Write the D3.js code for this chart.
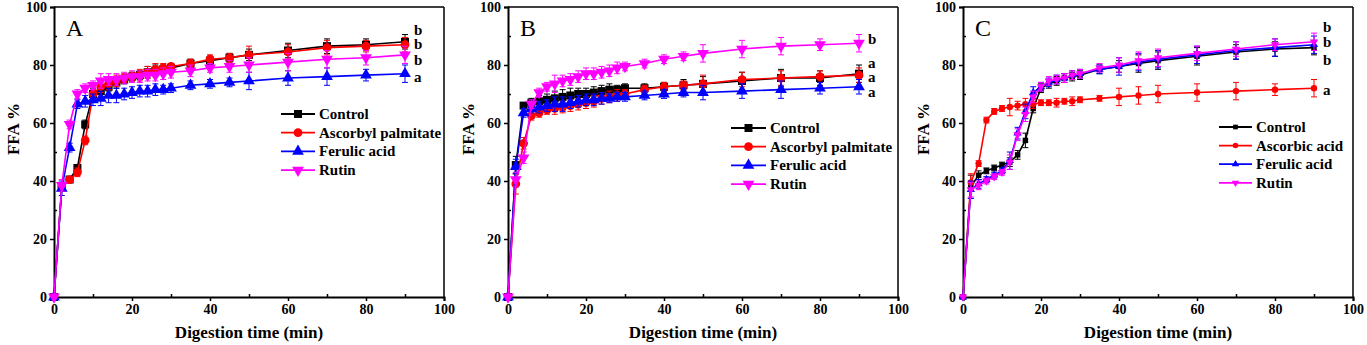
<!DOCTYPE html>
<html>
<head>
<meta charset="utf-8">
<script src="https://cdn.jsdelivr.net/npm/d3@7"></script>
<style>
  html, body { margin: 0; padding: 0; background: #fff; }
  svg { display: block; }
  text { font-family: "Liberation Serif", "Times New Roman", serif; }
</style>
</head>
<body>
<svg id="chart" width="1367" height="345"></svg>
<script>
// ---------------- DATA ----------------
const timeMin = [0,2,4,6,8,10,12,14,16,18,20,22,24,26,28,30,35,40,45,50,60,70,80,90];
const xTicks = [0,20,40,60,80,100];
const yTicks = [0,20,40,60,80,100];
const panelLabels = ["A","B","C"];
const xTitle = "Digestion time (min)";
const yTitle = "FFA %";

// Panel A
const namesA = ["Control","Ascorbyl palmitate","Ferulic acid","Rutin"];
const aControl = [0,38,40.5,44.5,59.5,70,71,72.5,74,75,76,76.5,77.5,78,78.5,79,80.5,81.5,82.5,83.5,85,86.5,87,88];
const aAscPal  = [0,38,40.5,43,54,70,72.5,73.5,74.5,75.5,76,76.5,77.5,78.5,79,79.5,80.5,82,82.5,83.5,84.5,86,86.5,87];
const aFerulic = [0,37.5,51.5,66.5,67.5,68,68.5,69.5,69.5,70,70.5,71,71,71.5,71.5,72,73,73.5,74,74.5,75.5,76,76.5,77];
const aRutin   = [0,38.5,59.5,70,72,73,74.5,75,75,75.5,76,76,76.5,76.5,77,77.5,78,79,79.5,80,81,82,82.5,83.5];
const aControlErr = [0,1.5,1,1,1.5,2,2,1.5,2,1.5,1.5,1.5,2,2,1.5,1,1.5,1.5,1.5,2,2.5,2.5,2,2.5];
const aAscPalErr  = [0,1.5,1,1.5,1.5,1.5,2,2,2,1.5,1.5,2,2,2,1.5,1,1.5,1.5,1.5,3,2.5,2.5,2,2.5];
const aFerulicErr = [0,2.5,1.5,1.5,2,2,2.5,2.5,2.5,2,2,2,2,2,1.5,1.5,1.5,1.5,1.5,3,2.5,3,2,3];
const aRutinErr   = [0,2,1.5,1.5,1.5,1.5,2.5,2,2,2,2,2,2,2,2,2,2,1.5,2,2.5,3,3,2.5,3];
const lettersA = ["b","b","b","a"];
const letterValsA = [92,87.2,81.7,75.9];

// Panel B
const namesB = ["Control","Ascorbyl palmitate","Ferulic acid","Rutin"];
const bControl = [0,45.5,66,67,67.5,68,68.5,69,69.5,70,70,70.5,71,71.5,71.5,72,72,72.5,73,73.5,74.5,75.5,75.5,77];
const bAscPal  = [0,39,53,62.5,63.5,64.5,65,65.5,66,66.5,67,67.5,68.5,69,69.5,70,71.5,72.5,73,73.5,75,75.5,76,76.5];
const bFerulic = [0,45,63.5,65,65.5,66,66.5,66.5,67,67.5,68,68,68.5,68.5,69,69,69.5,70,70.5,70.5,71,71.5,72,72.5];
const bRutin   = [0,40.5,48,66.5,70.5,72.5,73.5,74.5,75,76,77,77,77.5,78,79,79.5,80.5,82,83,84,85.5,86.5,87,87.5];
const bControlErr = [0,3,1,1.5,2,2,2.5,2.5,2.5,2,2,2,2,2,1.5,1.5,1.5,1.5,2,2.5,3,3,2.5,3];
const bAscPalErr  = [0,3.5,2,1.5,1.5,1.5,2,2,2,2,2,2,2,2,2,1.5,1.5,1.5,1.5,3,2.5,2.5,2,2.5];
const bFerulicErr = [0,2.5,1.5,1.5,2,2,2.5,2.5,2,2,2,2,2,1.5,1.5,1.5,1.5,1.5,1.5,2.5,2.5,3,2,2.5];
const bRutinErr   = [0,2.5,2,1.5,1.5,1.5,3,2,2,2,2,2,2,2,2,1.5,1.5,1.5,1.5,3,3,3,2,3];
const lettersB = ["b","a","a","a"];
const letterValsB = [88.8,80.6,75.8,70.8];

// Panel C
const namesC = ["Control","Ascorbic acid","Ferulic acid","Rutin"];
const cControl = [0,38,42,43.5,44.5,45.5,46.5,49,54,65,72,73.5,74.5,75.5,76,76.5,78.5,79.5,80.5,81.5,83,84.5,85.5,86];
const cAscAcid = [0,39.5,46,61,64,65,65.5,66,66.5,66.5,67,67,67,67.5,67.5,68,68.5,69,69.5,70,70.5,71,71.5,72];
const cFerulic = [0,37,39,40.5,42,43.5,47,56.5,64,70.5,72.5,74,75,75.5,76.5,77,78.5,79.5,81,82,83.5,85,86,87];
const cRutin   = [0,37,38.5,40,41.5,43,46.5,56,63,69,72.5,74.5,75,75.5,76.5,77,79,80,81.5,82.5,84,85.5,87,88];
const cControlErr = [0,4,1.5,1,1,1,1.5,1.5,2.5,1.5,1.5,1.5,1.5,1.5,1.5,1.5,1.5,2,3,3,3,2.5,2.5,2.5];
const cAscAcidErr = [0,3,1,1,1,1,3,1.5,2,1.5,1,1,1.5,1,1.5,1,1,3,3,3,3,3,2,3];
const cFerulicErr = [0,3,1.5,1,1,1,3,2,2.5,2,1.5,1.5,1.5,1.5,1.5,1.5,1.5,3,3,3,3,3,3,3];
const cRutinErr   = [0,2.5,1.5,1,1,1,2.5,2,2.5,2,1.5,1.5,1.5,1.5,1.5,1.5,1.5,2.5,3,3,2.5,2.5,2,3];
const lettersC = ["b","b","b","a"];
const letterValsC = [93.2,88,81.7,71.4];

// ---------------- STYLE / LAYOUT ----------------
const colors = ["#000000","#ff0000","#0000ff","#ff00ff"];
const symTypes = [d3.symbolSquare, d3.symbolCircle, d3.symbolTriangle, d3.symbolTriangle];
const symRotate = [0,0,0,180];

const panels = [
  { origin: 0, left: 54,  label: panelLabels[0], names: namesA,
    values: [aControl,aAscPal,aFerulic,aRutin], errs: [aControlErr,aAscPalErr,aFerulicErr,aRutinErr],
    letters: lettersA, letterVals: letterValsA, symSize: [64,60,60,60], legSize: [64,60,60,60],
    legend: { x1: 227, x2: 261, tx: 265, y0: 107, dy: 18.7 } },
  { origin: 455, left: 508, label: panelLabels[1], names: namesB,
    values: [bControl,bAscPal,bFerulic,bRutin], errs: [bControlErr,bAscPalErr,bFerulicErr,bRutinErr],
    letters: lettersB, letterVals: letterValsB, symSize: [64,60,60,60], legSize: [64,60,60,60],
    legend: { x1: 223, x2: 258, tx: 262, y0: 121, dy: 18.7 } },
  { origin: 910, left: 963, label: panelLabels[2], names: namesC,
    values: [cControl,cAscAcid,cFerulic,cRutin], errs: [cControlErr,cAscAcidErr,cFerulicErr,cRutinErr],
    letters: lettersC, letterVals: letterValsC, symSize: [30,32,30,30], legSize: [22,24,24,24],
    legend: { x1: 256, x2: 289, tx: 293, y0: 120, dy: 18.6 } }
];

const plotTop = 7, plotW = 390, plotH = 290;
const svg = d3.select("#chart");

panels.forEach(p => {
  const g = svg.append("g").attr("transform", `translate(${p.left},${plotTop})`);
  const x = d3.scaleLinear().domain([0,100]).range([0,plotW]);
  const y = d3.scaleLinear().domain([0,100]).range([plotH,0]);

  // frame top/right
  g.append("line").attr("x1",0).attr("x2",plotW).attr("y1",0).attr("y2",0)
    .attr("stroke","#000").attr("stroke-width",1.5);
  g.append("line").attr("x1",plotW).attr("x2",plotW).attr("y1",0).attr("y2",plotH)
    .attr("stroke","#000").attr("stroke-width",1.5);

  // axes
  const xAxis = g.append("g").attr("transform",`translate(0,${plotH})`)
    .call(d3.axisBottom(x).tickValues(xTicks).tickSize(4).tickPadding(3).tickFormat(d3.format("d")));
  const xMinor = g.append("g").attr("transform",`translate(0,${plotH})`)
    .call(d3.axisBottom(x).tickValues(d3.range(10,100,20)).tickSize(-3).tickFormat(""));
  const yAxis = g.append("g")
    .call(d3.axisLeft(y).tickValues(yTicks).tickSize(4).tickPadding(3).tickFormat(d3.format("d")));
  const yMinor = g.append("g")
    .call(d3.axisLeft(y).tickValues(d3.range(10,100,20)).tickSize(-3).tickFormat(""));
  [xAxis,xMinor,yAxis,yMinor].forEach(a => {
    a.select(".domain").attr("stroke","#000").attr("stroke-width",2);
    a.selectAll(".tick line").attr("stroke","#000").attr("stroke-width",1.5);
    a.selectAll(".tick text").attr("fill","#000")
      .style("font-family","'Liberation Serif', serif").style("font-weight","bold").style("font-size","14px");
  });
  xMinor.select(".domain").remove();
  yMinor.select(".domain").remove();

  // axis titles
  g.append("text").attr("x", plotW/2).attr("y", 338 - plotTop).attr("text-anchor","middle")
    .style("font-weight","bold").style("font-size","17px").text(xTitle);
  const yLabX = p.origin + 19 - p.left;
  g.append("text").attr("transform",`translate(${yLabX},${129 - plotTop}) rotate(-90)`)
    .attr("text-anchor","middle").style("font-weight","bold").style("font-size","17px").text(yTitle);

  // panel label
  g.append("text").attr("x", 12).attr("y", 36 - plotTop)
    .style("font-size","24px").text(p.label);

  // series
  p.values.forEach((vals, si) => {
    const col = colors[si];
    const pts = timeMin.map((t,i) => ({t, v: vals[i], e: p.errs[si][i]}));
    const sg = g.append("g");
    pts.forEach(d => {
      if (d.e <= 0) return;
      const cx = x(d.t), y1 = y(d.v + d.e), y2 = y(d.v - d.e);
      sg.append("line").attr("x1",cx).attr("x2",cx).attr("y1",y1).attr("y2",y2)
        .attr("stroke",col).attr("stroke-width",1);
      [y1,y2].forEach(yy => sg.append("line").attr("x1",cx-3).attr("x2",cx+3).attr("y1",yy).attr("y2",yy)
        .attr("stroke",col).attr("stroke-width",1));
    });
    sg.append("path").datum(pts)
      .attr("d", d3.line().x(d => x(d.t)).y(d => y(d.v)))
      .attr("fill","none").attr("stroke",col).attr("stroke-width",1.6);
    sg.selectAll("path.sym").data(pts).join("path").attr("class","sym")
      .attr("transform", d => `translate(${x(d.t)},${y(d.v)}) rotate(${symRotate[si]})`)
      .attr("d", d3.symbol().type(symTypes[si]).size(p.symSize[si]))
      .attr("fill",col);
  });

  // significance letters
  p.letters.forEach((L,i) => {
    g.append("text").attr("x", x(92.3)).attr("y", y(p.letterVals[i]) + 5)
      .style("font-weight","bold").style("font-size","15px").text(L);
  });

  // legend
  const lg = p.legend;
  p.names.forEach((n,i) => {
    const yy = lg.y0 + i*lg.dy;
    g.append("line").attr("x1",lg.x1).attr("x2",lg.x2).attr("y1",yy).attr("y2",yy)
      .attr("stroke",colors[i]).attr("stroke-width",1.8);
    g.append("path").attr("transform",`translate(${(lg.x1+lg.x2)/2},${yy}) rotate(${symRotate[i]})`)
      .attr("d", d3.symbol().type(symTypes[i]).size(p.legSize[i])).attr("fill",colors[i]);
    g.append("text").attr("x",lg.tx).attr("y",yy+5)
      .style("font-weight","bold").style("font-size","15px").text(n);
  });
});
</script>
</body>
</html>
